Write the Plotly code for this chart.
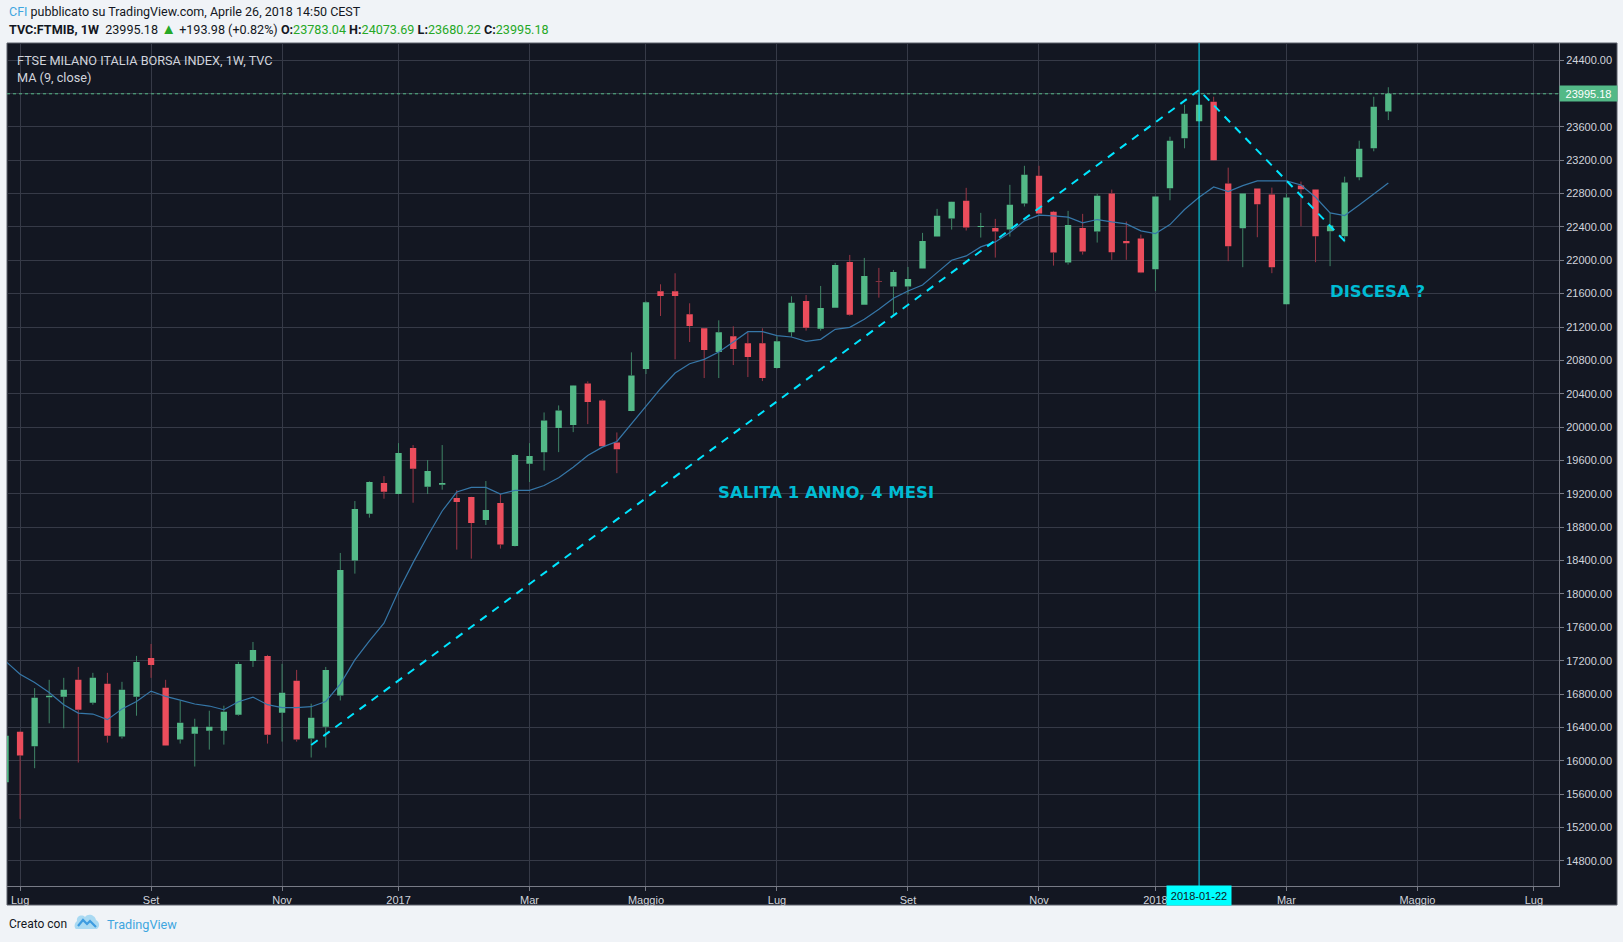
import pandas as pd
import plotly.graph_objects as go

# ---------------- data (weekly, FTSE MIB, first bar = week of 2016-06-27) ----------------
first_week = "2016-06-27"
opens = [15745, 16350, 16175, 16762, 16768, 16971, 16697, 16923, 16291, 16768, 17234, 16876, 16255, 16326,
         16362, 16362, 16553, 17198, 17258, 16577, 16959, 16267, 16410, 16784, 18400, 18963, 19330, 19198,
         19749, 19286, 19310, 19150, 19162, 18887, 19090, 18576, 19561, 19700, 19988, 20024, 20524, 20320,
         19816, 20192, 20696, 21628, 21628, 21352, 21184, 20900, 21088, 21004, 21004, 20708, 21138, 21512,
         21180, 21432, 21980, 21468, 21752, 21684, 21684, 21900, 22284, 22500, 22712, 22400, 22388, 22368,
         22680, 23012, 22580, 21972, 22388, 22344, 22799, 22232, 22260, 21893, 22863, 23461, 23665, 23900,
         22919, 22384, 22859, 22787, 21474, 22895, 22847, 22348, 22288, 22995, 23342, 23783.04]
highs = [16360, 16360, 16872, 16971, 16995, 17126, 17055, 17055, 16947, 17258, 17401, 16971, 16720, 16505,
         16601, 16661, 17186, 17425, 17270, 17162, 17090, 16685, 17126, 18492, 19114, 19350, 19413, 19808,
         19785, 19605, 19785, 19246, 19165, 19354, 19198, 19677, 19808, 20176, 20260, 20505, 20548, 20332,
         19936, 20896, 21508, 21712, 21844, 21484, 21188, 21280, 21208, 21136, 21184, 21088, 21568, 21584,
         21692, 21968, 22064, 22028, 21908, 21884, 21920, 22328, 22616, 22702, 22868, 22568, 22496, 22904,
         23132, 23132, 22592, 22592, 22556, 22796, 22847, 22464, 22308, 22765, 23481, 23864, 23990, 23960,
         23110, 22800, 22860, 22871, 22799, 22943, 22849, 22572, 23002, 23433, 23960, 24073.69]
lows = [15700, 15304, 15912, 16450, 16390, 15980, 16673, 16219, 16267, 16541, 16995, 16180, 16207, 15932,
        16135, 16195, 16541, 17126, 16207, 16231, 16231, 16040, 16159, 16724, 18244, 18915, 19142, 19195,
        19094, 19198, 19250, 18532, 18424, 18827, 18544, 18570, 19342, 19480, 19700, 19940, 20036, 19770,
        19448, 20190, 20636, 21332, 20812, 21020, 20588, 20588, 20744, 20600, 20552, 20700, 21084, 21156,
        21156, 21430, 21336, 21466, 21552, 21336, 21588, 21898, 22282, 22368, 22356, 22272, 22032, 22284,
        22644, 22558, 21936, 21948, 22068, 22212, 22005, 22005, 21845, 21630, 22719, 23342, 23660, 23195,
        21989, 21917, 22276, 21845, 21470, 22408, 21977, 21929, 22216, 22959, 23306, 23680.22]
closes = [16302, 16064, 16756, 16780, 16852, 16613, 16995, 16302, 16852, 17186, 17150, 16183, 16458, 16410,
          16410, 16589, 17162, 17329, 16314, 16816, 16255, 16517, 17090, 18288, 19018, 19342, 19226, 19689,
          19501, 19473, 19330, 19102, 18851, 19006, 18592, 19665, 19653, 20080, 20200, 20500, 20300, 19772,
          19736, 20620, 21496, 21572, 21572, 21212, 20924, 21136, 20936, 20840, 20588, 21028, 21492, 21192,
          21428, 21944, 21348, 21812, 21744, 21860, 21776, 22232, 22532, 22700, 22392, 22412, 22344, 22664,
          23024, 22560, 22092, 22424, 22104, 22772, 22097, 22204, 21853, 22763, 23433, 23757, 23864, 23198,
          22169, 22799, 22671, 21917, 22751, 22851, 22288, 22416, 22931, 23338, 23840, 23995.18]
ma9 = [17194, 17039, 16939, 16820, 16673, 16573, 16561, 16494, 16621, 16712, 16836, 16772, 16728, 16681,
       16657, 16613, 16708, 16764, 16673, 16637, 16637, 16649, 16712, 16920, 17210, 17438, 17650, 18037,
       18376, 18695, 18995, 19222, 19278, 19278, 19198, 19242, 19242, 19300, 19393, 19520, 19660, 19760,
       19828, 20040, 20240, 20460, 20648, 20760, 20812, 20900, 21020, 21144, 21144, 21096, 21080, 21028,
       21052, 21172, 21196, 21292, 21412, 21544, 21632, 21704, 21852, 22000, 22052, 22160, 22220, 22332,
       22472, 22540, 22532, 22516, 22448, 22488, 22460, 22436, 22352, 22320, 22428, 22608, 22755, 22879,
       22823, 22895, 22951, 22951, 22951, 22903, 22755, 22568, 22536, 22663, 22795, 22927]

trend_dates = ["2016-11-21", "2018-01-22", "2018-04-02"]
trend_values = [16190, 24040, 22231]
marker_date = "2018-01-22"

tick_dates = ["2016-07-04", "2016-09-05", "2016-11-07", "2017-01-02", "2017-03-06", "2017-05-01",
              "2017-07-03", "2017-09-04", "2017-11-06", "2018-01-01", "2018-03-05", "2018-05-07",
              "2018-07-02"]
tick_labels = ["Lug", "Set", "Nov", "2017", "Mar", "Maggio", "Lug", "Set", "Nov", "2018", "Mar",
               "Maggio", "Lug"]

salita_pos = ("2017-07-26T10:00", 19214)
discesa_pos = ("2018-04-17T14:00", 21631)

# ---------------- styles ----------------
BG = "#131722"
GRID = "#363a47"
AXIS = "#787b86"
TXT = "#d1d4dc"
UP = "#53b987"
DN = "#eb4d5c"
UP_WICK = "#3f8466"
DN_WICK = "#9a3645"
CYAN = "#00e5ff"

dates = pd.date_range(first_week, periods=len(opens), freq="7D")

# wick segments (split above / below the body so the bodies stay clean)
wx = {True: [], False: []}
wy = {True: [], False: []}
for d, o, h, l, c in zip(dates, opens, highs, lows, closes):
    up = c >= o
    top, bot = max(o, c), min(o, c)
    wx[up] += [d, d, None, d, d, None]
    wy[up] += [top, h, None, l, bot, None]

fig = go.Figure()
fig.add_trace(go.Candlestick(
    x=dates, open=opens, high=highs, low=lows, close=closes,
    increasing=dict(fillcolor=UP, line=dict(color=UP, width=0)),
    decreasing=dict(fillcolor=DN, line=dict(color=DN, width=0)),
    hoverinfo="skip", showlegend=False))
fig.add_trace(go.Scatter(x=wx[True], y=wy[True], mode="lines", line=dict(color=UP_WICK, width=1),
                         hoverinfo="skip", showlegend=False))
fig.add_trace(go.Scatter(x=wx[False], y=wy[False], mode="lines", line=dict(color=DN_WICK, width=1),
                         hoverinfo="skip", showlegend=False))
fig.add_trace(go.Scatter(x=dates, y=ma9, mode="lines", line=dict(color="#3677a8", width=1.2),
                         hoverinfo="skip", showlegend=False))
fig.add_trace(go.Scatter(x=pd.to_datetime(trend_dates), y=trend_values, mode="lines",
                         line=dict(color=CYAN, width=2, dash="8px,7px"),
                         hoverinfo="skip", showlegend=False))

W, H = 1623, 942
L, R, T, B = 7, 1559, 43, 886


def px(x):
    return (x - L) / (R - L)


def py(y):
    return (B - y) / (B - T)


shapes = [
    # dark chart frame incl. axis bands
    dict(type="rect", xref="paper", yref="paper", x0=0, x1=px(1617), y0=py(905), y1=1,
         fillcolor=BG, line=dict(color="#5d606b", width=1), layer="below"),
    # last close dotted line
    dict(type="line", xref="paper", yref="y", x0=0, x1=1, y0=closes[-1], y1=closes[-1],
         line=dict(color=UP, width=1, dash="dot")),
    # vertical cursor line
    dict(type="line", xref="x", yref="paper", x0=marker_date, x1=marker_date, y0=0, y1=1,
         line=dict(color=CYAN, width=1)),
    # TradingView logo (simplified cloud)
    dict(type="path", xref="paper", yref="paper", xsizemode="pixel", ysizemode="pixel",
         xanchor=px(75), yanchor=py(929),
         path="M 1,0 L 22,0 C 25,2 25,7 21,9 C 20,14 13,16 10,12 C 7,15 1,13 2,8 C -1,6 -1,1 1,0 Z",
         fillcolor="#a9d9f2", line=dict(width=0)),
    dict(type="path", xref="paper", yref="paper", xsizemode="pixel", ysizemode="pixel",
         xanchor=px(75), yanchor=py(929),
         path="M 3,3 L 8,9 L 12,5 L 15,8 L 21,2",
         line=dict(color="#3d9be0", width=2.2)),
]

hdr_green = "#26a826"
annotations = [
    dict(xref="paper", yref="paper", x=px(7), y=py(11.5), xanchor="left", yanchor="middle",
         showarrow=False, align="left",
         text="<span style='color:#3ea6e0'>CFI</span> pubblicato su TradingView.com, Aprile 26, 2018 14:50 CEST",
         font=dict(family="Roboto", size=12.5, color="#131722")),
    dict(xref="paper", yref="paper", x=px(7), y=py(29), xanchor="left", yanchor="middle",
         showarrow=False, align="left",
         text=("<b>TVC:FTMIB, 1W</b>  23995.18 <span style='color:%s;font-size:15px'>▲</span> +193.98 (+0.82%%) "
               "<b>O:</b><span style='color:%s'>23783.04</span> <b>H:</b><span style='color:%s'>24073.69</span> "
               "<b>L:</b><span style='color:%s'>23680.22</span> <b>C:</b><span style='color:%s'>23995.18</span>")
         % (hdr_green, hdr_green, hdr_green, hdr_green, hdr_green),
         font=dict(family="Roboto", size=12.6, color="#131722")),
    dict(xref="paper", yref="paper", x=px(15), y=py(60), xanchor="left", yanchor="middle",
         showarrow=False, text="FTSE MILANO ITALIA BORSA INDEX, 1W, TVC",
         font=dict(family="Roboto", size=12.7, color=TXT)),
    dict(xref="paper", yref="paper", x=px(15), y=py(77.5), xanchor="left", yanchor="middle",
         showarrow=False, text="MA (9, close)",
         font=dict(family="Roboto", size=12.7, color=TXT)),
    dict(xref="paper", yref="paper", x=px(7), y=py(924), xanchor="left", yanchor="middle",
         showarrow=False, text="Creato con",
         font=dict(family="Roboto", size=12, color="#131722")),
    dict(xref="paper", yref="paper", x=px(105), y=py(924), xanchor="left", yanchor="middle",
         showarrow=False, text="TradingView",
         font=dict(family="Roboto", size=12.7, color="#3ea6e0")),
    # texts drawn on the chart
    dict(x=salita_pos[0], y=salita_pos[1], showarrow=False, text="<b>SALITA 1 ANNO, 4 MESI</b>",
         font=dict(family="DejaVu Sans", size=16.5, color="#00bcd4")),
    dict(x=discesa_pos[0], y=discesa_pos[1], showarrow=False, text="<b>DISCESA ?</b>",
         font=dict(family="DejaVu Sans", size=16.5, color="#00bcd4")),
    # last price label on the y axis
    dict(xref="paper", yref="y", x=1, y=closes[-1], xanchor="left", yanchor="middle",
         showarrow=False, text="%.2f" % closes[-1], bgcolor=UP, width=55, height=13, borderpad=1,
         font=dict(family="Liberation Sans", size=11, color="#ffffff")),
    # cursor date label on the x axis
    dict(xref="x", yref="paper", x=marker_date, y=py(895.5), xanchor="center", yanchor="middle",
         showarrow=False, text=marker_date, bgcolor="#00ffff", width=62, height=17, borderpad=1,
         font=dict(family="Liberation Sans", size=11, color="#131722")),
]

fig.update_layout(
    width=W, height=H,
    margin=dict(l=L, r=W - R, t=T, b=H - B, pad=0),
    paper_bgcolor="#f0f3f7",
    plot_bgcolor=BG,
    boxgap=0.38,
    showlegend=False,
    shapes=shapes,
    annotations=annotations,
    xaxis=dict(
        type="date",
        range=["2016-06-27 17:00", "2018-07-14 02:00"],
        tickvals=tick_dates, ticktext=tick_labels,
        showgrid=True, gridcolor=GRID, gridwidth=1,
        ticks="outside", ticklen=4, tickcolor=AXIS,
        showline=True, linecolor=AXIS, linewidth=1,
        tickfont=dict(family="Liberation Sans", size=11, color=TXT),
        rangeslider=dict(visible=False), zeroline=False, fixedrange=True,
    ),
    yaxis=dict(
        side="right",
        range=[14500, 24604],
        tick0=0, dtick=400, tickformat=".2f",
        showgrid=True, gridcolor=GRID, gridwidth=1,
        ticks="outside", ticklen=4, tickcolor=AXIS,
        showline=True, linecolor=AXIS, linewidth=1,
        tickfont=dict(family="Liberation Sans", size=11, color=TXT),
        zeroline=False, fixedrange=True,
    ),
)

fig.write_html("out.html")
